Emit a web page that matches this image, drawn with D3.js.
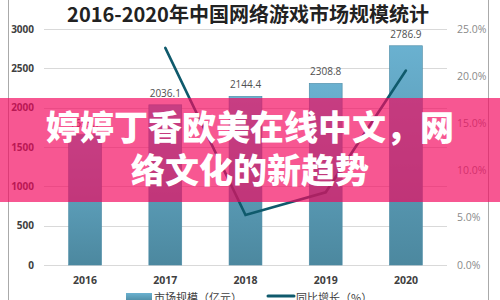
<!DOCTYPE html>
<html lang="zh">
<head>
<meta charset="UTF-8">
<title>2016-2020年中国网络游戏市场规模统计</title>
<script src="https://cdn.jsdelivr.net/npm/d3@7"></script>
<style>
    body { margin: 0; background: #fff; }
    svg { display: block; }
    .tick-left { font-family: "Open Sans", sans-serif; font-size: 10px; font-weight: 700; fill: #404040; }
    .tick-right { font-family: "Open Sans", sans-serif; font-size: 10.5px; fill: #8a8a8a; }
    .year { font-family: "Open Sans", sans-serif; font-size: 10.5px; font-weight: 700; fill: #404040; }
    .val { font-family: "Open Sans", sans-serif; font-size: 10px; fill: #505050; }
</style>
</head>
<body>
<svg width="500" height="300"></svg>
<script>
    // data
    const years = ["2016", "2017", "2018", "2019", "2020"];
    const marketSize = [1655.7, 2036.1, 2144.4, 2308.8, 2786.9];
    const growthYears = ["2017", "2018", "2019", "2020"];
    const growth = [23.0, 5.3, 7.7, 20.6];
    const leftTicks = [0, 500, 1000, 1500, 2000, 2500, 3000];
    const rightTicks = [0, 5, 10, 15, 20, 25];
    const titleText = "2016-2020年中国网络游戏市场规模统计";
    const legendNames = ["市场规模（亿元）", "同比增长（%）"];
    const bannerLines = ["婷婷丁香欧美在线中文，网", "络文化的新趋势"];

    const svg = d3.select("svg");

    const x = d3.scaleBand().domain(years).range([45, 446]).paddingInner(0.59).paddingOuter(0.295);
    const yL = d3.scaleLinear().domain([0, 3000]).range([265, 29]);
    const yR = d3.scaleLinear().domain([0, 25]).range([265, 29]);

    // frame lines
    svg.append("line").attr("x1", 8.5).attr("x2", 8.5).attr("y1", 0).attr("y2", 300).attr("stroke", "#aaa");
    svg.append("line").attr("x1", 488.5).attr("x2", 488.5).attr("y1", 0).attr("y2", 300).attr("stroke", "#aaa");

    // bar gradient
    const defs = svg.append("defs");
    const grad = defs.append("linearGradient").attr("id", "barGrad").attr("x1", 0).attr("y1", 0).attr("x2", 0).attr("y2", 1);
    grad.append("stop").attr("offset", "0%").attr("stop-color", "#6ab1d0");
    grad.append("stop").attr("offset", "100%").attr("stop-color", "#4c889f");

    // title
    svg.append("text")
        .attr("x", 248).attr("y", 22)
        .attr("text-anchor", "middle")
        .style("font-family", "'Noto Sans CJK SC', sans-serif")
        .style("font-weight", 700)
        .style("font-size", "20px")
        .style("fill", "#222")
        .text(titleText);

    // gridlines
    svg.append("g").selectAll("line")
        .data(leftTicks)
        .join("line")
        .attr("x1", 44).attr("x2", 447)
        .attr("y1", d => Math.round(yL(d)) + 0.5).attr("y2", d => Math.round(yL(d)) + 0.5)
        .attr("stroke", "#d9d9d9");

    // left axis labels
    svg.append("g").selectAll("text")
        .data(leftTicks)
        .join("text")
        .attr("class", "tick-left")
        .attr("x", 34).attr("y", d => yL(d) + 3.5)
        .attr("text-anchor", "end")
        .text(d => d);

    // right axis labels
    svg.append("g").selectAll("text")
        .data(rightTicks)
        .join("text")
        .attr("class", "tick-right")
        .attr("x", 457).attr("y", d => yR(d) + 3.5)
        .text(d => d.toFixed(1) + "%");

    // bars
    svg.append("g").selectAll("rect")
        .data(marketSize)
        .join("rect")
        .attr("x", (d, i) => x(years[i]))
        .attr("y", d => yL(d))
        .attr("width", x.bandwidth())
        .attr("height", d => yL(0) - yL(d))
        .attr("fill", "url(#barGrad)")
        .attr("stroke", "#4a8aa5").attr("stroke-width", 0.6);

    // value labels
    svg.append("g").selectAll("text")
        .data(marketSize)
        .join("text")
        .attr("class", "val")
        .attr("x", (d, i) => x(years[i]) + x.bandwidth() / 2)
        .attr("y", d => yL(d) - 8)
        .attr("text-anchor", "middle")
        .text(d => d.toFixed(1));

    // growth line
    const line = d3.line()
        .x((d, i) => x(growthYears[i]) + x.bandwidth() / 2)
        .y(d => yR(d));
    svg.append("path")
        .datum(growth)
        .attr("d", line)
        .attr("fill", "none")
        .attr("stroke", "#0f5a6c")
        .attr("stroke-width", 2.6)
        .attr("stroke-linecap", "round")
        .attr("stroke-linejoin", "miter");

    // year labels
    svg.append("g").selectAll("text")
        .data(years)
        .join("text")
        .attr("class", "year")
        .attr("x", d => x(d) + x.bandwidth() / 2)
        .attr("y", 284)
        .attr("text-anchor", "middle")
        .text(d => d);

    // legend
    const lg = svg.append("g");
    lg.append("rect").attr("x", 126).attr("y", 293).attr("width", 26).attr("height", 9).attr("fill", "url(#barGrad)");
    lg.append("text").attr("x", 154).attr("y", 302)
        .style("font-family", "'Noto Sans CJK SC', sans-serif").style("font-size", "11px").style("fill", "#404040")
        .text(legendNames[0]);
    lg.append("line").attr("x1", 268).attr("x2", 294).attr("y1", 296).attr("y2", 296)
        .attr("stroke", "#0f5a6c").attr("stroke-width", 3).attr("stroke-linecap", "round");
    lg.append("text").attr("x", 296).attr("y", 302)
        .style("font-family", "'Noto Sans CJK SC', sans-serif").style("font-size", "11px").style("fill", "#404040")
        .text(legendNames[1]);

    // banner overlay
    svg.append("rect")
        .attr("x", 0).attr("y", 98).attr("width", 500).attr("height", 104)
        .attr("fill", "#f3075e").attr("fill-opacity", 0.68);

    svg.append("g").selectAll("text")
        .data(bannerLines)
        .join("text")
        .attr("x", 250)
        .attr("y", (d, i) => 140 + i * 43)
        .attr("text-anchor", "middle")
        .style("font-family", "'Noto Sans CJK SC', sans-serif")
        .style("font-weight", 900)
        .style("font-size", "34px")
        .style("fill", "#fff")
        .text(d => d);
</script>
</body>
</html>
